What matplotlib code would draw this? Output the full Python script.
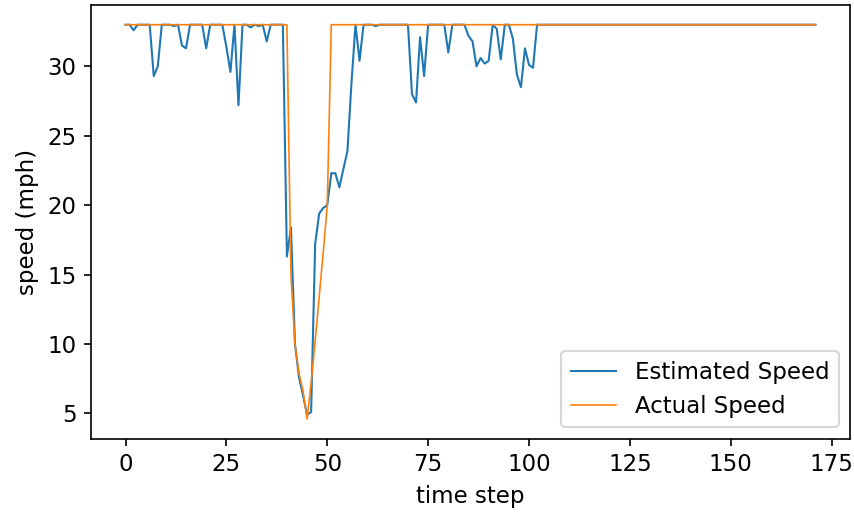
import matplotlib
matplotlib.use('Agg')
import matplotlib.pyplot as plt
import numpy as np

plt.rcParams['font.size'] = 11

# speed estimates, one value per time step
estimated_head = [
    33.0, 33.0, 32.6, 33.0, 33.0, 33.0, 33.0, 29.3, 30.0, 33.0,   # 0-9
    33.0, 33.0, 32.9, 33.0, 31.5, 31.3, 33.0, 33.0, 33.0, 33.0,   # 10-19
    31.3, 33.0, 33.0, 33.0, 33.0, 31.4, 29.6, 33.0, 27.2, 33.0,   # 20-29
    33.0, 32.8, 33.0, 32.9, 33.0, 31.8, 33.0, 33.0, 33.0, 33.0,   # 30-39
    16.3, 18.4, 10.0, 7.6, 6.3, 4.9, 5.1, 17.2, 19.4, 19.8,      # 40-49
    20.0, 22.3, 22.3, 21.3, 22.6, 23.9, 28.8, 33.0, 30.4, 33.0,   # 50-59
    33.0, 33.0, 32.9, 33.0, 33.0, 33.0, 33.0, 33.0, 33.0, 33.0,   # 60-69
    33.0, 28.0, 27.4, 32.1, 29.3, 33.0, 33.0, 33.0, 33.0, 33.0,   # 70-79
    31.0, 33.0, 33.0, 33.0, 33.0, 32.2, 31.8, 30.0, 30.6, 30.2,   # 80-89
    30.4, 33.0, 32.7, 30.5, 33.0, 33.0, 32.0, 29.4, 28.5, 31.3,   # 90-99
    30.1, 29.9, 33.0,                                             # 100-102
]
actual_head = [33.0] * 41 + [15.0, 10.0, 7.9, 6.6, 4.6, 7.2, 10.2, 13.4, 16.6, 20.0]

N_STEPS = 172
estimated_speed = estimated_head + [33.0] * (N_STEPS - len(estimated_head))
actual_speed = actual_head + [33.0] * (N_STEPS - len(actual_head))
time_step = np.arange(N_STEPS)

fig = plt.figure(figsize=(854 / 150, 513 / 150), dpi=150)
ax = fig.add_axes([91 / 854, 74.3 / 513, 759 / 854, 433.7 / 513])
ax.plot(time_step, estimated_speed, label='Estimated Speed', linewidth=1)
ax.plot(time_step, actual_speed, label='Actual Speed', linewidth=0.8)
ax.set_xlabel('time step')
ax.set_ylabel('speed (mph)')
ax.legend(loc='lower right')
fig.savefig('out.png', dpi=150)
